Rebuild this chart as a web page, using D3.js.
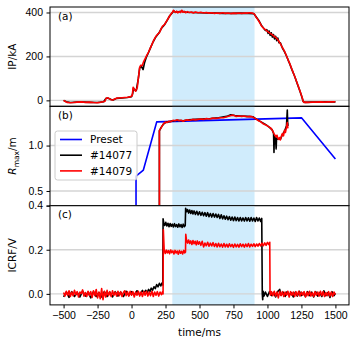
<!DOCTYPE html>
<html>
<head>
<meta charset="utf-8">
<script src="https://d3js.org/d3.v7.min.js"></script>
<style>
  body { margin: 0; background: #fff; }
  svg { font-family: "DejaVu Sans", sans-serif; }
  .grid line { stroke: #d4d4d4; stroke-width: 1.4; }
  .axis path, .axis line { stroke: #000; stroke-width: 1; }
  .axis text { font-size: 10.5px; fill: #000; }
  .trace { fill: none; stroke-width: 1.6; stroke-linejoin: round; }
</style>
</head>
<body>
<svg id="chart" width="357" height="345"></svg>
<script>
// ---- data ----
var timeTicks = [-500, -250, 0, 250, 500, 750, 1000, 1250, 1500];
var shadeSpan = [300, 905];
var ipTicks = [0, 200, 400];
var rTicks = [0.4, 0.5, 1.0];
var icrfTicks = [0.0, 0.2, 0.4];
var legendLabels = ["Preset", "#14077", "#14079"];
var panelLabels = ["(a)", "(b)", "(c)"];

// IP (kA) vs time (ms)
var ip14077 = [[-500,0],[-480,-6],[-450,-10],[-400,-8],[-350,-8],[-300,-9],[-250,-10],[-205,-6],[-190,8],[-175,11],[-150,4],[-135,2],[-110,9],[-70,11],[-30,13],[0,17],[8,30],[14,55],[22,48],[35,45],[50,100],[60,148],[72,155],[85,140],[95,170],[110,198],[125,218],[140,240],[160,268],[180,290],[200,305],[220,328],[240,342],[260,362],[280,384],[300,399],[310,407],[325,401],[345,403],[370,406],[400,401],[450,400],[500,399],[560,398],[620,397],[680,396],[740,396],[800,397],[860,396],[900,395],[915,382],[935,365],[955,342],[970,330],[985,318],[995,322],[1005,305],[1012,316],[1020,296],[1028,308],[1036,288],[1044,300],[1052,280],[1060,292],[1068,272],[1076,284],[1085,262],[1095,262],[1110,238],[1125,222],[1140,202],[1160,172],[1180,140],[1200,110],[1220,75],[1240,40],[1255,12],[1263,-5],[1275,-9],[1320,-8],[1380,-8],[1440,-7],[1500,-7]];
var ip14079 = [[-500,0],[-490,-4],[-475,-9],[-455,-11],[-430,-10],[-400,-8],[-370,-7],[-340,-9],[-310,-8],[-280,-10],[-255,-11],[-230,-9],[-210,-6],[-195,-4],[-188,9],[-178,12],[-165,8],[-150,3],[-138,2],[-125,6],[-110,10],[-90,11],[-70,12],[-50,13],[-30,14],[-10,16],[5,22],[12,60],[20,50],[30,42],[42,58],[52,110],[60,150],[68,160],[78,158],[90,178],[100,190],[112,205],[125,220],[138,238],[150,255],[165,275],[180,292],[195,303],[205,308],[215,322],[228,338],[240,343],[252,355],[265,368],[278,382],[290,393],[300,400],[308,410],[316,404],[324,400],[332,406],[340,398],[350,404],[360,400],[370,410],[378,401],[388,405],[398,399],[410,404],[425,400],[440,402],[455,398],[470,402],[490,399],[510,401],[530,398],[550,400],[570,397],[590,399],[610,396],[630,398],[650,396],[670,399],[690,396],[710,398],[730,395],[750,397],[770,396],[790,398],[810,396],[830,398],[850,397],[870,399],[890,397],[905,392],[915,380],[925,372],[935,362],[945,352],[955,340],[965,333],[975,326],[985,322],[995,316],[1005,312],[1015,307],[1025,303],[1035,299],[1045,294],[1055,289],[1065,284],[1075,277],[1085,268],[1095,258],[1105,246],[1115,236],[1125,224],[1135,210],[1145,195],[1155,180],[1165,166],[1175,150],[1185,133],[1195,118],[1205,102],[1215,85],[1225,68],[1235,50],[1245,32],[1255,14],[1262,-3],[1268,-9],[1280,-8],[1300,-9],[1330,-8],[1360,-8],[1390,-7],[1420,-8],[1450,-7],[1480,-7],[1500,-6]];

// R_max (m) vs time (ms)
var rPreset = [[33,0.3],[33,0.627],[87,0.688],[185,1.434],[1252,1.525],[1500,0.815]];
var r14077 = [[205,0.3],[205,1.25],[218,1.32],[235,1.39],[255,1.43],[280,1.44],[310,1.46],[340,1.47],[380,1.46],[420,1.48],[470,1.49],[520,1.50],[580,1.51],[640,1.53],[700,1.56],[730,1.60],[760,1.58],[800,1.57],[850,1.56],[895,1.55],[920,1.49],[950,1.44],[985,1.38],[1015,1.32],[1035,1.27],[1045,1.20],[1048,0.90],[1051,1.15],[1058,1.14],[1064,0.95],[1067,1.12],[1080,1.10],[1095,1.10],[1110,1.18],[1125,1.24],[1140,1.35],[1146,1.72],[1149,1.40],[1152,1.35]];
var r14079 = [[205,0.3],[205,1.26],[215,1.30],[228,1.36],[240,1.41],[250,1.43],[262,1.42],[275,1.45],[290,1.44],[305,1.47],[320,1.46],[335,1.48],[350,1.46],[365,1.47],[380,1.45],[395,1.47],[410,1.48],[430,1.47],[450,1.49],[470,1.48],[490,1.49],[510,1.50],[530,1.49],[550,1.51],[575,1.50],[600,1.52],[625,1.51],[650,1.53],[675,1.53],[700,1.55],[720,1.57],[740,1.59],[755,1.58],[770,1.56],[790,1.57],[810,1.56],[830,1.57],[850,1.55],[870,1.56],[890,1.55],[905,1.52],[920,1.49],[935,1.46],[950,1.44],[965,1.40],[980,1.38],[995,1.36],[1010,1.33],[1022,1.31],[1032,1.28],[1040,1.24],[1048,1.20],[1055,1.17],[1062,1.14],[1070,1.17],[1076,1.12],[1082,1.10],[1088,1.13],[1095,1.09],[1102,1.15],[1110,1.20],[1118,1.16],[1125,1.26],[1132,1.22],[1140,1.32],[1146,1.42],[1150,1.30]];

// ICRF (V) vs time (ms)
var icrf14077 = [[-500,-0.014],[-480,0.008],[-460,-0.016],[-440,0.010],[-420,-0.012],[-400,0.006],[-380,-0.014],[-360,0.012],[-340,-0.010],[-320,0.008],[-300,-0.018],[-280,0.010],[-260,-0.012],[-240,0.006],[-220,-0.014],[-200,0.010],[-180,-0.012],[-160,0.008],[-140,-0.014],[-120,0.010],[-100,-0.010],[-80,0.008],[-60,-0.012],[-40,0.012],[-20,-0.008],[0,0.010],[20,-0.006],[40,0.014],[60,-0.004],[80,0.016],[90,0.004],[95,0.008],[105,0.016],[115,0.006],[125,0.020],[135,0.010],[145,0.026],[155,0.016],[165,0.032],[175,0.024],[185,0.042],[195,0.032],[205,0.048],[215,0.036],[225,0.050],[230,0.040],[232,0.34],[236,0.325],[244,0.310],[252,0.324],[260,0.308],[268,0.320],[276,0.304],[284,0.319],[292,0.306],[300,0.316],[308,0.303],[316,0.318],[324,0.305],[332,0.314],[340,0.302],[348,0.317],[356,0.304],[364,0.314],[372,0.301],[380,0.316],[388,0.304],[395,0.310],[398,0.388],[404,0.372],[412,0.382],[420,0.366],[428,0.380],[436,0.364],[444,0.378],[452,0.362],[460,0.376],[470,0.360],[480,0.374],[490,0.358],[500,0.372],[510,0.356],[520,0.370],[530,0.354],[540,0.368],[550,0.352],[560,0.368],[570,0.350],[580,0.364],[590,0.348],[600,0.364],[610,0.348],[620,0.362],[630,0.346],[640,0.360],[650,0.342],[660,0.358],[670,0.340],[680,0.354],[690,0.338],[700,0.352],[710,0.336],[720,0.350],[730,0.334],[740,0.348],[750,0.332],[760,0.348],[770,0.332],[780,0.346],[790,0.330],[800,0.346],[810,0.331],[820,0.344],[830,0.330],[840,0.346],[850,0.331],[860,0.345],[870,0.329],[880,0.346],[890,0.330],[900,0.344],[910,0.328],[920,0.346],[930,0.330],[940,0.344],[950,0.328],[958,0.342],[962,0.0],[965,-0.026],[968,0.012],[975,-0.010],[985,0.008],[1000,-0.012],[1015,0.010],[1030,-0.008],[1045,0.006],[1060,-0.014],[1075,0.010],[1090,0.020],[1100,-0.006],[1115,0.008],[1130,-0.012],[1145,0.010],[1160,-0.008],[1175,0.006],[1190,-0.014],[1205,0.008],[1220,-0.010],[1235,0.012],[1250,-0.008],[1265,0.006],[1280,-0.012],[1295,0.010],[1310,-0.008],[1325,0.008],[1340,-0.014],[1355,0.010],[1370,-0.010],[1385,0.006],[1400,-0.012],[1415,0.014],[1430,-0.008],[1445,0.006],[1460,-0.016],[1475,0.010],[1490,-0.008],[1500,0.002]];
var icrf14079 = [[-500,0.006],[-490,-0.010],[-480,0.012],[-470,-0.006],[-460,0.014],[-450,-0.012],[-440,0.008],[-430,-0.008],[-420,0.016],[-410,-0.004],[-400,0.010],[-390,-0.014],[-380,0.008],[-370,0.002],[-360,0.018],[-350,-0.010],[-340,0.006],[-330,-0.012],[-320,0.012],[-310,-0.006],[-300,0.010],[-290,-0.016],[-280,0.014],[-270,-0.008],[-260,0.020],[-250,-0.018],[-240,0.008],[-230,-0.022],[-220,0.024],[-210,-0.026],[-200,0.012],[-190,-0.014],[-180,0.016],[-170,-0.008],[-160,0.010],[-150,-0.012],[-140,0.014],[-130,-0.006],[-120,0.008],[-110,-0.010],[-100,0.012],[-90,-0.008],[-80,0.010],[-70,-0.012],[-60,0.006],[-50,0.014],[-40,-0.008],[-30,0.010],[-20,-0.010],[-10,0.012],[0,-0.006],[10,0.010],[20,-0.014],[30,0.008],[40,-0.006],[50,0.012],[60,-0.010],[70,0.008],[80,-0.012],[90,0.010],[100,-0.006],[110,0.012],[120,-0.010],[130,0.008],[140,-0.008],[150,0.012],[160,-0.012],[170,0.008],[180,-0.006],[190,0.010],[200,-0.010],[210,0.008],[220,-0.004],[228,0.010],[232,0.0],[234,0.29],[240,0.20],[248,0.183],[256,0.198],[264,0.186],[272,0.196],[280,0.182],[288,0.199],[296,0.187],[304,0.195],[312,0.181],[320,0.197],[328,0.185],[336,0.194],[344,0.180],[352,0.196],[360,0.184],[368,0.193],[376,0.181],[384,0.197],[392,0.186],[397,0.19],[399,0.27],[404,0.245],[412,0.230],[420,0.244],[428,0.228],[436,0.240],[444,0.224],[452,0.242],[460,0.227],[468,0.238],[476,0.222],[484,0.240],[492,0.225],[500,0.236],[510,0.220],[520,0.238],[530,0.213],[540,0.230],[550,0.218],[560,0.234],[570,0.216],[580,0.230],[590,0.217],[600,0.232],[610,0.215],[620,0.228],[630,0.213],[640,0.229],[650,0.214],[660,0.226],[670,0.212],[680,0.228],[690,0.213],[700,0.225],[710,0.212],[720,0.227],[730,0.214],[740,0.224],[750,0.211],[760,0.226],[770,0.213],[780,0.224],[790,0.212],[800,0.227],[810,0.214],[820,0.225],[830,0.212],[840,0.226],[850,0.214],[860,0.228],[870,0.213],[880,0.225],[890,0.215],[900,0.227],[910,0.214],[920,0.226],[930,0.216],[940,0.228],[950,0.217],[960,0.230],[970,0.218],[980,0.231],[990,0.220],[1000,0.233],[1010,0.223],[1017,0.234],[1019,0.005],[1022,-0.006],[1030,0.010],[1040,-0.008],[1050,0.012],[1060,-0.010],[1070,0.008],[1080,-0.018],[1090,0.012],[1100,-0.008],[1110,0.010],[1120,-0.012],[1130,0.008],[1140,-0.006],[1150,0.012],[1160,-0.014],[1170,0.010],[1180,-0.006],[1190,0.008],[1200,-0.012],[1210,0.010],[1220,-0.008],[1230,0.012],[1240,-0.010],[1250,0.008],[1260,-0.006],[1270,0.010],[1280,-0.014],[1290,0.008],[1300,-0.008],[1310,0.012],[1320,-0.010],[1330,0.006],[1340,-0.012],[1350,0.010],[1360,-0.006],[1370,0.008],[1380,-0.010],[1390,0.012],[1400,-0.008],[1410,0.010],[1420,-0.012],[1430,0.006],[1440,-0.008],[1450,0.010],[1460,-0.010],[1470,0.008],[1480,-0.012],[1490,0.008],[1500,-0.004]];

// ---- layout ----
var plotLeft = 50, plotRight = 349, plotTop = 7, panelH = 99.3;
var svg = d3.select('#chart');

var x = d3.scaleLinear().domain([-600, 1600]).range([plotLeft, plotRight]);

var panels = [
  { y: d3.scaleLinear().domain([-27, 425]), ticks: ipTicks, fmt: d3.format('d'),
    series: [[ip14077, '#000'], [ip14079, '#ff0000']] },
  { y: d3.scaleLog().domain([0.4, 1.82]), ticks: rTicks, fmt: d3.format('.1f'),
    series: [[rPreset, '#0000ff'], [r14077, '#000'], [r14079, '#ff0000']] },
  { y: d3.scaleLinear().domain([-0.05, 0.4]), ticks: icrfTicks, fmt: d3.format('.1f'),
    series: [[icrf14077, '#000'], [icrf14079, '#ff0000']] }
];

panels.forEach(function(p, i) {
  var y0 = plotTop + i * panelH, y1 = y0 + panelH;
  p.y.range([y1, y0]);

  var g = svg.append('g');
  g.append('clipPath').attr('id', 'clip' + i)
    .append('rect').attr('x', plotLeft).attr('y', y0).attr('width', plotRight - plotLeft).attr('height', panelH);

  // shaded interval
  g.append('rect')
    .attr('x', x(shadeSpan[0])).attr('width', x(shadeSpan[1]) - x(shadeSpan[0]))
    .attr('y', y0).attr('height', panelH)
    .attr('fill', '#d0ecfc');

  // horizontal grid
  g.append('g').attr('class', 'grid')
    .selectAll('line').data(p.ticks).enter().append('line')
    .attr('x1', plotLeft).attr('x2', plotRight)
    .attr('y1', function(d) { return p.y(d); })
    .attr('y2', function(d) { return p.y(d); });

  var line = d3.line()
    .x(function(d) { return x(d[0]); })
    .y(function(d) { return p.y(d[1]); });

  var plot = g.append('g').attr('clip-path', 'url(#clip' + i + ')');
  p.series.forEach(function(s) {
    plot.append('path').attr('class', 'trace')
      .attr('d', line(s[0])).attr('stroke', s[1]);
  });

  // y axis
  var ax = g.append('g').attr('class', 'axis')
    .attr('transform', 'translate(' + plotLeft + ',0)')
    .call(d3.axisLeft(p.y).tickValues(p.ticks).tickFormat(p.fmt).tickSize(3.5).tickPadding(3.5));
  ax.select('.domain').remove();
  // the 0.4 at the (b)/(c) boundary is labelled once, by panel (c)
  if (i === 1) ax.selectAll('.tick text').filter(function(d) { return d === 0.4; }).remove();

  // frame
  g.append('rect')
    .attr('x', plotLeft).attr('y', y0).attr('width', plotRight - plotLeft).attr('height', panelH)
    .attr('fill', 'none').attr('stroke', '#000').attr('stroke-width', 1);

  g.append('text').attr('x', 58).attr('y', y0 + 12.5)
    .attr('font-size', 10.5).text(panelLabels[i]);
});

// x axis at the bottom of panel (c)
svg.append('g').attr('class', 'axis')
  .attr('transform', 'translate(0,' + (plotTop + 3 * panelH) + ')')
  .call(d3.axisBottom(x).tickValues(timeTicks).tickFormat(d3.format('d')).tickSize(3.5).tickPadding(3.5))
  .select('.domain').remove();

svg.append('text').attr('x', (plotLeft + plotRight) / 2).attr('y', 336)
  .attr('text-anchor', 'middle').attr('font-size', 10.5).text('time/ms');

// y labels
function yLabel(cy) {
  return svg.append('text')
    .attr('transform', 'translate(16,' + cy + ') rotate(-90)')
    .attr('text-anchor', 'middle').attr('font-size', 10.5);
}
yLabel(plotTop + panelH / 2).text('IP/kA');
var rl = yLabel(plotTop + panelH * 1.5);
rl.append('tspan').attr('font-style', 'italic').text('R');
rl.append('tspan').attr('font-size', 7.5).attr('dy', 2.5).text('max');
rl.append('tspan').attr('dy', -2.5).text('/m');
yLabel(plotTop + panelH * 2.5).text('ICRF/V');

// legend in panel (b)
var legColors = ['#0000ff', '#000', '#ff0000'];
var leg = svg.append('g').attr('transform', 'translate(55,131)');
leg.append('rect').attr('width', 82).attr('height', 49).attr('rx', 2.5)
  .attr('fill', '#fff').attr('fill-opacity', 0.8)
  .attr('stroke', '#cccccc').attr('stroke-width', 1);
legendLabels.forEach(function(lab, i) {
  var ly = 8.5 + i * 15.7;
  leg.append('line').attr('x1', 5).attr('x2', 27).attr('y1', ly).attr('y2', ly)
    .attr('stroke', legColors[i]).attr('stroke-width', 1.6);
  leg.append('text').attr('x', 35).attr('y', ly + 3.8)
    .attr('font-size', 10.5).text(lab);
});
</script>
</body>
</html>
